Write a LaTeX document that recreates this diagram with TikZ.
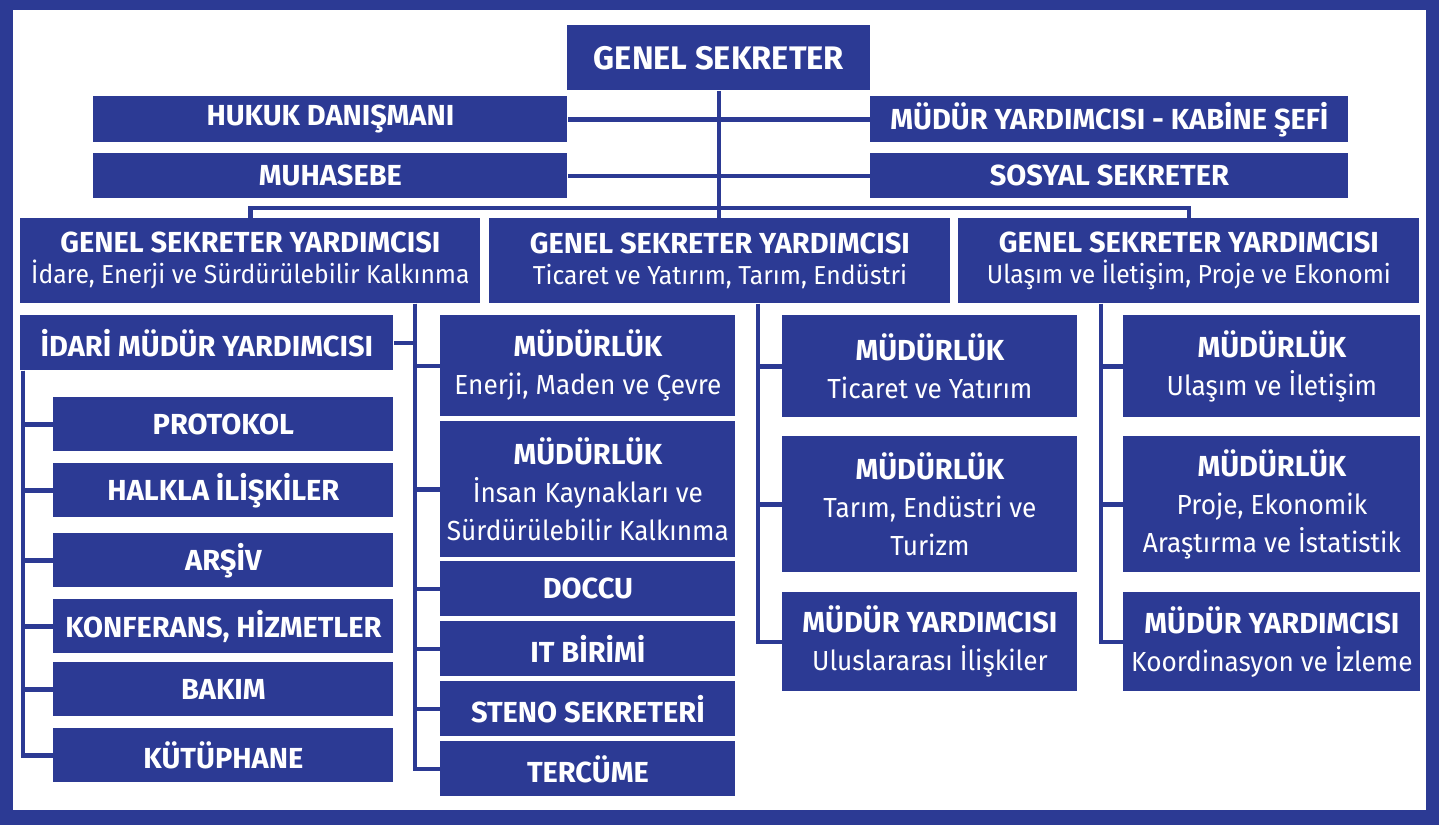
\documentclass[tikz,border=0pt]{standalone}
\usepackage{fontspec}
\setmainfont{Fira Sans}[UprightFeatures={FakeStretch=0.95}]
\usetikzlibrary{positioning}
\definecolor{navy}{RGB}{44,58,148}
\newcommand{\hd}[1]{{\bfseries\fontsize{14.5}{19}\selectfont #1}}

\begin{document}
\begin{tikzpicture}[x=0.5pt,y=-0.5pt,
	box/.style={fill=navy,text=white,inner sep=0pt,anchor=north west,align=center},
	wh/.style 2 args={minimum width=#1*0.5pt,minimum height=#2*0.5pt},
	big/.style={font=\bfseries\fontsize{16.3}{20}\selectfont},
	item/.style={font=\bfseries\fontsize{14.5}{19}\selectfont},
	unit/.style={font=\fontsize{13.8}{19}\selectfont},
	deputy/.style={font=\fontsize{13}{15.5}\selectfont},
	conn/.style={draw=navy,line width=2.3pt}]
	\useasboundingbox (0,0) rectangle (1439,825);
	% frame
	\fill[navy] (0,0) rectangle (1439,825);
	\fill[white] (13,10) rectangle (1426,810);

	% top of the chart
	\node[box,big,wh={303}{65}] (gs) at (567,25) {GENEL SEKRETER};
	\node[box,item,wh={474}{46}] (hukuk) at (93,96) {HUKUK DANIŞMANI};
	\node[box,item,wh={478}{46}] (kabine) at (870,96) {MÜDÜR YARDIMCISI - KABİNE ŞEFİ};
	\node[box,item,wh={474}{45}] (muhasebe) at (93,153) {MUHASEBE};
	\node[box,item,wh={478}{45}] (sosyal) at (870,153) {SOSYAL SEKRETER};

	\node[box,deputy,wh={460}{85}] (gsy1) at (20,218) {\hd{GENEL SEKRETER YARDIMCISI}\\İdare, Enerji ve Sürdürülebilir Kalkınma};
	\node[box,deputy,wh={461}{85}] (gsy2) at (489,218) {\hd{GENEL SEKRETER YARDIMCISI}\\Ticaret ve Yatırım, Tarım, Endüstri};
	\node[box,deputy,wh={461}{85}] (gsy3) at (958,218) {\hd{GENEL SEKRETER YARDIMCISI}\\Ulaşım ve İletişim, Proje ve Ekonomi};

	\coordinate (bus) at (720,208);
	\draw[conn] (gs.south) -- (gs.south |- gsy2.north);
	\draw[conn] (hukuk) -- (kabine);
	\draw[conn] (muhasebe) -- (sosyal);
	\draw[conn] (gsy1.north) |- (bus) -| (gsy3.north);

	% trunks under the deputies
	\path (gsy1.south west) ++(395,0) coordinate (trA);
	\path (gsy2.south west) ++(269,0) coordinate (trB);
	\path (gsy3.south west) ++(143,0) coordinate (trC);

	% idari branch
	\node[box,item,wh={373}{55}] (idari) at (20,315) {İDARİ MÜDÜR YARDIMCISI};
	\draw[conn] (idari.east) -- (idari.east -| trA);
	\foreach \nm/\y/\txt in {prot/397/PROTOKOL,halk/463/HALKLA İLİŞKİLER,arsiv/533/ARŞİV,
		konf/599/{KONFERANS, HİZMETLER},bakim/662/BAKIM,kutup/728/KÜTÜPHANE}{
		\node[box,item,wh={340}{54}] (\nm) at (53,\y) {\txt};
		\draw[conn] ([xshift=1.5pt]idari.south west) |- (\nm.west);
	}

	% first deputy, directorates
	\node[box,unit,wh={295}{101}] (enerji) at (440,315) {\hd{MÜDÜRLÜK}\\Enerji, Maden ve Çevre};
	\node[box,unit,wh={295}{136}] (insan) at (440,421) {\hd{MÜDÜRLÜK}\\İnsan Kaynakları ve\\Sürdürülebilir Kalkınma};
	\node[box,item,wh={295}{55}] (doccu) at (440,561) {DOCCU};
	\node[box,item,wh={295}{55}] (it) at (440,621) {IT BİRİMİ};
	\node[box,item,wh={295}{55}] (steno) at (440,681) {STENO SEKRETERİ};
	\node[box,item,wh={295}{55}] (tercume) at (440,741) {TERCÜME};
	\foreach \nm in {enerji,insan,doccu,it,steno,tercume}
		\draw[conn] (trA) |- (\nm.west);

	% second deputy
	\node[box,unit,wh={295}{102}] (ticaret) at (782,315) {\hd{MÜDÜRLÜK}\\Ticaret ve Yatırım};
	\node[box,unit,wh={295}{136}] (tarim) at (782,436) {\hd{MÜDÜRLÜK}\\Tarım, Endüstri ve\\Turizm};
	\node[box,unit,wh={295}{99}] (uluslar) at (782,592) {\hd{MÜDÜR YARDIMCISI}\\Uluslararası İlişkiler};
	\foreach \nm in {ticaret,tarim,uluslar}
		\draw[conn] (trB) |- (\nm.west);

	% third deputy
	\node[box,unit,wh={297}{102}] (ulasim) at (1123,315) {\hd{MÜDÜRLÜK}\\Ulaşım ve İletişim};
	\node[box,unit,wh={297}{136}] (proje) at (1123,436) {\hd{MÜDÜRLÜK}\\Proje, Ekonomik\\Araştırma ve İstatistik};
	\node[box,unit,wh={297}{99}] (koord) at (1123,592) {\hd{MÜDÜR YARDIMCISI}\\Koordinasyon ve İzleme};
	\foreach \nm in {ulasim,proje,koord}
		\draw[conn] (trC) |- (\nm.west);
\end{tikzpicture}
\end{document}
